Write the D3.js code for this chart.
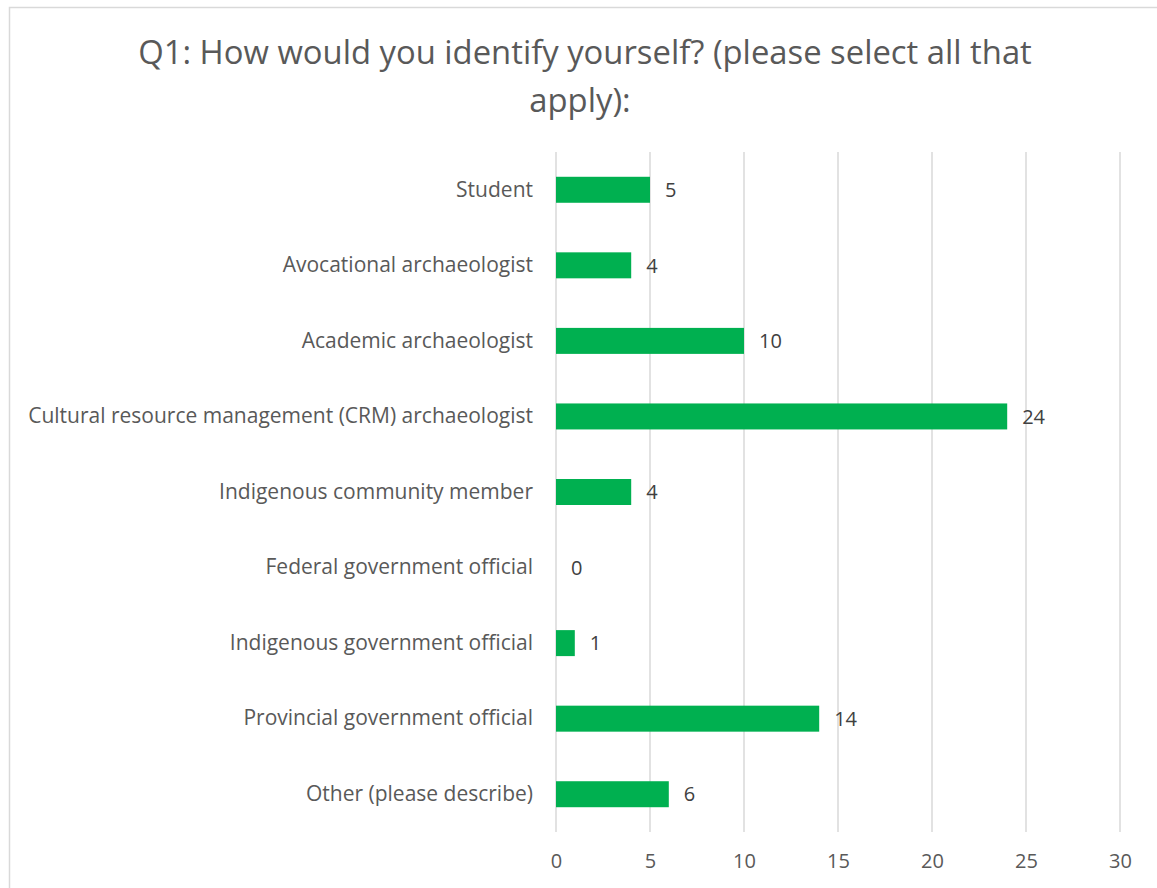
<!DOCTYPE html>
<html>
<head>
<meta charset="utf-8">
<script src="https://cdn.jsdelivr.net/npm/d3@7"></script>
<style>
  body { margin: 0; background: #fff; }
  text { font-family: "Open Sans", "Noto Sans", sans-serif; }
</style>
</head>
<body>
<div id="chart"></div>
<script>
// Chart data
var categories = [
    "Student",
    "Avocational archaeologist",
    "Academic archaeologist",
    "Cultural resource management (CRM) archaeologist",
    "Indigenous community member",
    "Federal government official",
    "Indigenous government official",
    "Provincial government official",
    "Other (please describe)"
];
var counts = [5, 4, 10, 24, 4, 0, 1, 14, 6];
var xTicks = [0, 5, 10, 15, 20, 25, 30];
var titleLines = ["Q1: How would you identify yourself? (please select all that", "apply):"];

var W = 1157, H = 888;
var margin = { top: 152, right: 37, bottom: 56, left: 556 };
var width = W - margin.left - margin.right,
    height = H - margin.top - margin.bottom;

var svg = d3.select("#chart").append("svg")
    .attr("width", W)
    .attr("height", H);

// Chart border
svg.append("rect")
    .attr("x", 9.5).attr("y", 7.5)
    .attr("width", W + 10).attr("height", H + 10)
    .attr("fill", "none")
    .attr("stroke", "#d9d9d9")
    .attr("stroke-width", 1.5);

// Title
svg.append("text")
    .attr("text-anchor", "middle")
    .attr("fill", "#595959")
    .style("font-size", "32.8px")
    .selectAll("tspan")
    .data(titleLines)
    .enter().append("tspan")
    .attr("x", function (d, i) { return i === 0 ? 585 : 580; })
    .attr("y", function (d, i) { return 64 + i * 48; })
    .text(function (d) { return d; });

var g = svg.append("g")
    .attr("transform", "translate(" + margin.left + "," + margin.top + ")");

// Scales
var x = d3.scaleLinear().domain([0, 30]).range([0, width]);
var y = d3.scaleBand().domain(categories).range([0, height]).paddingInner(0.656).paddingOuter(0.328);

// Gridlines
g.selectAll(".grid")
    .data(xTicks)
    .enter().append("line")
    .attr("x1", function (d) { return x(d); })
    .attr("x2", function (d) { return x(d); })
    .attr("y1", 0)
    .attr("y2", height)
    .attr("stroke", "#d9d9d9")
    .attr("stroke-width", 1.5);

// X axis
var xAxis = g.append("g")
    .attr("transform", "translate(0," + height + ")")
    .call(d3.axisBottom(x).tickValues(xTicks).tickSize(0).tickPadding(22));
xAxis.select(".domain").remove();
xAxis.selectAll("text")
    .attr("fill", "#595959")
    .style("font-size", "20px")
    .style("font-family", "'Open Sans', sans-serif");

// Y axis
var yAxis = g.append("g")
    .call(d3.axisLeft(y).tickSize(0).tickPadding(23));
yAxis.select(".domain").remove();
yAxis.selectAll("text")
    .attr("fill", "#595959")
    .style("font-size", "21px")
    .style("font-family", "'Open Sans', sans-serif");

// Bars
g.selectAll(".bar")
    .data(categories)
    .enter().append("rect")
    .attr("x", x(0))
    .attr("y", function (d) { return y(d); })
    .attr("width", function (d, i) { return x(counts[i]) - x(0); })
    .attr("height", y.bandwidth())
    .attr("fill", "#00b050");

// Value labels
g.selectAll(".label")
    .data(categories)
    .enter().append("text")
    .attr("x", function (d, i) { return x(counts[i]) + 15; })
    .attr("y", function (d) { return y(d) + y.bandwidth() / 2; })
    .attr("dy", "0.36em")
    .attr("fill", "#404040")
    .style("font-size", "20px")
    .text(function (d, i) { return counts[i]; });
</script>
</body>
</html>
